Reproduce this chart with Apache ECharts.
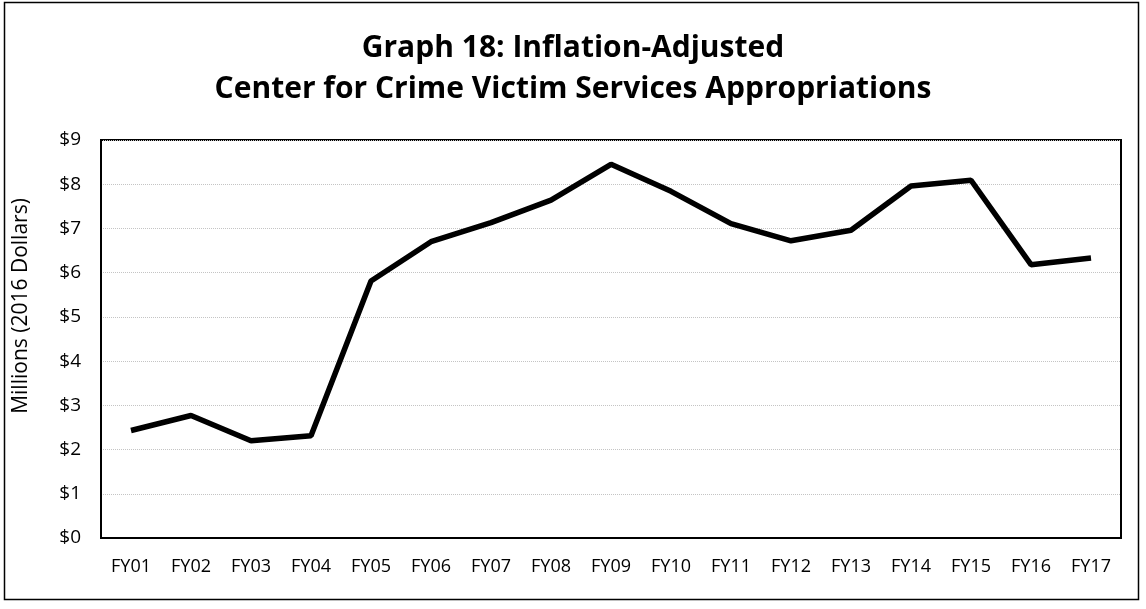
<!DOCTYPE html>
<html>
<head>
<meta charset="utf-8">
<script src="https://cdn.jsdelivr.net/npm/echarts@6/dist/echarts.min.js"></script>
<style>
  html, body { margin: 0; padding: 0; background: #fff; }
  #chart { width: 1146px; height: 609px; }
</style>
</head>
<body>
<div id="chart"></div>
<script>
var years = ['FY01', 'FY02', 'FY03', 'FY04', 'FY05', 'FY06', 'FY07', 'FY08', 'FY09',
    'FY10', 'FY11', 'FY12', 'FY13', 'FY14', 'FY15', 'FY16', 'FY17'];
var appropriations = [2.43, 2.77, 2.20, 2.31, 5.81, 6.70, 7.13, 7.64, 8.45,
    7.84, 7.11, 6.72, 6.96, 7.96, 8.09, 6.18, 6.33];

var font = 'Open Sans';

var chart = echarts.init(document.getElementById('chart'));
chart.setOption({
    animation: false,
    title: {
        text: 'Graph 18: Inflation-Adjusted\nCenter for Crime Victim Services Appropriations',
        left: 'center',
        top: 23,
        textStyle: {
            fontFamily: font,
            fontWeight: 'bold',
            fontSize: 30,
            lineHeight: 41,
            color: '#000'
        }
    },
    grid: { left: 101, right: 25, top: 140, bottom: 71 },
    xAxis: {
        type: 'category',
        data: years,
        boundaryGap: true,
        axisLine: { show: true, lineStyle: { color: '#000', width: 2 } },
        axisTick: { show: false },
        axisLabel: { fontFamily: font, fontSize: 18, color: '#000', margin: 20 }
    },
    yAxis: {
        type: 'value',
        min: 0,
        max: 9,
        interval: 1,
        axisLine: { show: true, lineStyle: { color: '#000', width: 2 } },
        axisTick: { show: false },
        axisLabel: {
            fontFamily: font, fontSize: 19, color: '#000', margin: 20,
            formatter: function (v) { return '$' + v; }
        },
        splitLine: { show: true, lineStyle: { color: '#c4c4c4', type: 'dotted', width: 1 } }
    },
    series: [{
        type: 'line',
        data: appropriations,
        symbol: 'none',
        lineStyle: { color: '#000', width: 5.5 }
    }],
    graphic: [{
        type: 'rect',
        shape: { x: 4.5, y: 2.5, width: 1134, height: 597 },
        style: { fill: 'none', stroke: '#000', lineWidth: 1.5 },
        silent: true
    }, {
        type: 'rect',
        shape: { x: 101, y: 140, width: 1020, height: 398 },
        style: { fill: 'none', stroke: '#000', lineWidth: 2 },
        silent: true
    }, {
        // axis title sits a bit above the plot's middle in the original
        type: 'text',
        x: 21,
        y: 306,
        rotation: Math.PI / 2,
        style: {
            text: 'Millions (2016 Dollars)',
            fontFamily: font,
            fontSize: 21,
            fill: '#000',
            textAlign: 'center',
            textVerticalAlign: 'middle'
        },
        silent: true
    }]
});
</script>
</body>
</html>
